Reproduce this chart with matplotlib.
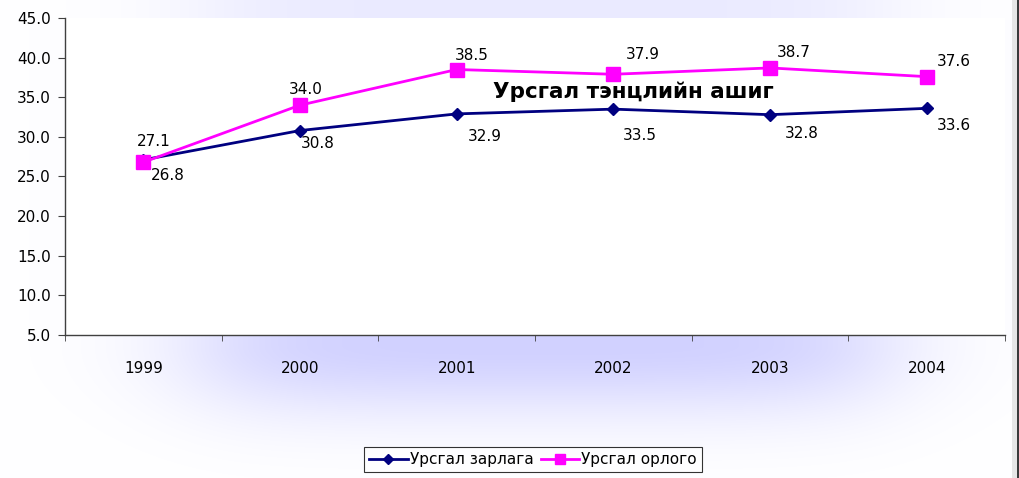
import matplotlib
matplotlib.use("Agg")
import matplotlib.pyplot as plt
from matplotlib.patches import Rectangle
import numpy as np

# data
years = ["1999", "2000", "2001", "2002", "2003", "2004"]
zarlaga = [27.1, 30.8, 32.9, 33.5, 32.8, 33.6]   # Урсгал зарлага
orlogo = [26.8, 34.0, 38.5, 37.9, 38.7, 37.6]    # Урсгал орлого
title = "Урсгал тэнцлийн ашиг"
y_ticks = [5, 10, 15, 20, 25, 30, 35, 40, 45]

# label offsets in pixels (dx, dy downwards)
off_zarlaga = [(10, -18), (18, 13), (28, 23), (26, 26), (32, 19), (27, 17)]
off_orlogo = [(24, 13), (6, -16), (15, -14), (29, -20), (24, -15), (27, -15)]

W, H = 1020, 478
fig = plt.figure(figsize=(W / 100, H / 100), dpi=100)

# lavender glow behind the chart
xx, yy = np.meshgrid(np.arange(W), np.arange(H))
fx = 0.5 * (np.tanh((xx - 200) / 90.0) - np.tanh((xx - 880) / 90.0))
gy = np.where(yy < 345, 1.0, np.exp(-((yy - 345) / 70.0) ** 2))
wy = np.where(yy < 20, 0.45, 1.0)
inten = np.clip(fx * gy * wy, 0, 1)
lav = np.array([0.82, 0.82, 1.0])
img = 1 - inten[..., None] * (1 - lav)[None, None, :]
bg = fig.add_axes([0, 0, 1, 1], zorder=-5)
bg.imshow(img, extent=(0, W, H, 0), aspect="auto")
bg.set_xlim(0, W)
bg.set_ylim(H, 0)
bg.axis("off")
bg.add_patch(Rectangle((1012, 0), 5, H, color="#e6e6e6", lw=0))
bg.add_patch(Rectangle((1017, 0), 3, H, color="#3a3a3a", lw=0))

ax = fig.add_axes([65 / W, 1 - 335 / H, 940 / W, 317 / H])
ax.set_facecolor("white")
x = np.arange(len(years))

ax.plot(x, zarlaga, color="#000080", lw=2, marker="D", ms=6.5, label="Урсгал зарлага", zorder=3)
ax.plot(x, orlogo, color="#FF00FF", lw=2, marker="s", ms=10, label="Урсгал орлого", zorder=4)

for i in range(len(years)):
    dx, dy = off_zarlaga[i]
    ax.annotate(f"{zarlaga[i]:.1f}", (x[i], zarlaga[i]), xytext=(dx * 0.72, -dy * 0.72),
                textcoords="offset points", ha="center", va="center", fontsize=11)
    dx, dy = off_orlogo[i]
    ax.annotate(f"{orlogo[i]:.1f}", (x[i], orlogo[i]), xytext=(dx * 0.72, -dy * 0.72),
                textcoords="offset points", ha="center", va="center", fontsize=11)

ax.text(0.605, 0.767, title, transform=ax.transAxes, ha="center", va="center",
        fontsize=15.5, fontweight="bold")

ax.set_xlim(-0.5, len(years) - 0.5)
ax.set_ylim(5, 45)
ax.set_yticks(y_ticks)
ax.set_yticklabels([f"{v:.1f}" for v in y_ticks], fontsize=11)
ax.set_xticks(x)
ax.set_xticklabels(years, fontsize=11)
ax.set_xticks(np.arange(-0.5, len(years)), minor=True)
ax.tick_params(axis="x", which="major", length=0, pad=19)
ax.tick_params(axis="x", which="minor", length=4, direction="out", color="#404040")
ax.tick_params(axis="y", length=5, direction="out", color="#404040", pad=5)
for s in ["top", "right"]:
    ax.spines[s].set_visible(False)
for s in ["left", "bottom"]:
    ax.spines[s].set_color("#404040")
    ax.spines[s].set_linewidth(1)

leg = fig.legend(loc="center", bbox_to_anchor=(533 / W, 1 - 459.5 / H), ncol=2,
                 fontsize=11, frameon=True, fancybox=False, edgecolor="black",
                 handlelength=2.5, handletextpad=0.15, columnspacing=0.45,
                 borderpad=0.35, borderaxespad=0)
leg.get_frame().set_linewidth(0.8)
leg.legend_handles[0].set_markersize(5.5)
leg.legend_handles[1].set_markersize(7)

fig.savefig("out.png", dpi=100)
